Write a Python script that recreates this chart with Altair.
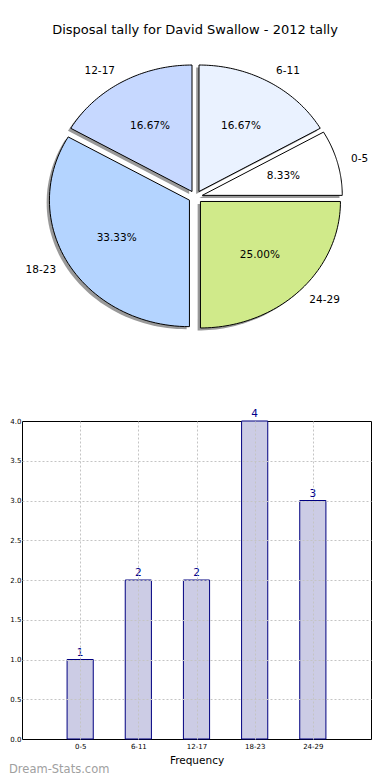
import altair as alt
import pandas as pd

# ---- data ----
labels = ["0-5", "6-11", "12-17", "18-23", "24-29"]
counts = [1, 2, 2, 4, 3]
slice_colors = ["#ffffff", "#eaf2ff", "#c6d8ff", "#b4d4ff", "#d0ea8a"]
y_ticks = [0.0, 0.5, 1.0, 1.5, 2.0, 2.5, 3.0, 3.5, 4.0]
title_text = "Disposal tally for David Swallow - 2012 tally"
x_title = "Frequency"
watermark = "Dream-Stats.com"

df = pd.DataFrame({"label": labels, "count": counts, "idx": list(range(len(labels)))})

FONT = "DejaVu Sans"
FRAME_LEFT = 21          # expected page x of the bar frame
PIE_W, PIE_H = 349, 383
CX_PAGE, CY_PAGE = 194.5, 197
RX, RY = 140, 126.5
cx = CX_PAGE - FRAME_LEFT
cy = CY_PAGE - 8
xdom = [-cx / RX, (PIE_W - cx) / RX]
ydom = [(cy - PIE_H) / RY, cy / RY]
E = 0.05       # explode
N = 60         # arc resolution

xs = alt.Scale(domain=xdom, nice=False, zero=False)
ys = alt.Scale(domain=ydom, nice=False, zero=False)

base = (
    alt.Chart(df)
    .transform_joinaggregate(total="sum(count)")
    .transform_window(cum="sum(count)", sort=[alt.SortField("idx")], frame=[None, 0])
    .transform_calculate(a0="2*PI*(datum.cum-datum.count)/datum.total")
    .transform_calculate(a1="2*PI*datum.cum/datum.total")
    .transform_calculate(mid="(datum.a0+datum.a1)/2")
    .transform_calculate(ex=f"{E}*cos(datum.mid)")
    .transform_calculate(ey=f"{E}*sin(datum.mid)")
)

poly = (
    base.transform_calculate(pts=f"sequence(0, {N + 3})")
    .transform_flatten(["pts"])
    .transform_calculate(t=f"datum.a0 + (datum.pts-1)/{N}*(datum.a1-datum.a0)")
    .transform_calculate(edge=f"(datum.pts==0 || datum.pts=={N + 2}) ? 0 : 1")
    .transform_calculate(px="datum.ex + datum.edge*cos(datum.t)")
    .transform_calculate(py="datum.ey + datum.edge*sin(datum.t)")
)

shadow = (
    poly.transform_calculate(sx="datum.px - 0.02")
    .transform_calculate(sy="datum.py - 0.02")
    .mark_line(filled=True, fill="#333333", fillOpacity=0.5, strokeOpacity=0)
    .encode(
        x=alt.X("sx:Q", scale=xs, axis=None),
        y=alt.Y("sy:Q", scale=ys, axis=None),
        order="pts:Q",
        detail="label:N",
    )
)

wedges = poly.mark_line(filled=True, stroke="black", strokeWidth=1, strokeJoin="miter").encode(
    x=alt.X("px:Q", scale=xs, axis=None),
    y=alt.Y("py:Q", scale=ys, axis=None),
    order="pts:Q",
    detail="label:N",
    color=alt.Color("label:N", scale=alt.Scale(domain=labels, range=slice_colors), legend=None),
)

pct = (
    base.transform_calculate(tx="datum.ex + 0.6*cos(datum.mid)")
    .transform_calculate(ty="datum.ey + 0.6*sin(datum.mid)")
    .transform_calculate(ptxt="format(100*datum.count/datum.total, '.2f') + '%'")
    .mark_text(font=FONT, fontSize=10.5, color="black", baseline="middle", align="center")
    .encode(x=alt.X("tx:Q", scale=xs, axis=None), y=alt.Y("ty:Q", scale=ys, axis=None), text="ptxt:N")
)

lab = base.transform_calculate(lx="datum.ex + 1.1*cos(datum.mid)").transform_calculate(
    ly="datum.ey + 1.1*sin(datum.mid)"
)
lab_r = lab.transform_filter("cos(datum.mid) >= 0").mark_text(
    font=FONT, fontSize=10.5, color="black", baseline="middle", align="left"
).encode(x=alt.X("lx:Q", scale=xs, axis=None), y=alt.Y("ly:Q", scale=ys, axis=None), text="label:N")
lab_l = lab.transform_filter("cos(datum.mid) < 0").mark_text(
    font=FONT, fontSize=10.5, color="black", baseline="middle", align="right"
).encode(x=alt.X("lx:Q", scale=xs, axis=None), y=alt.Y("ly:Q", scale=ys, axis=None), text="label:N")

title = alt.Chart(pd.DataFrame({"t": [title_text]})).mark_text(
    font=FONT, fontSize=13, color="black", baseline="middle", align="center"
).encode(x=alt.value(CX_PAGE - FRAME_LEFT - 0.5), y=alt.value(30 - 8), text="t:N")

pie = alt.layer(shadow, wedges, pct, lab_l, lab_r, title).properties(width=PIE_W, height=PIE_H)

# ---- bar chart ----
BAR_W = 370 - FRAME_LEFT
BAR_H = 318
label_expr = "[" + ",".join(f"'{l}'" for l in labels) + "][datum.value]"

xb = alt.Scale(domain=[-1, 5], nice=False, zero=False)
yb = alt.Scale(domain=[0, 4], nice=False, zero=True)

grid_kw = dict(gridColor="#c4c4c4", gridDash=[2, 2], gridWidth=1, zindex=1)

x_axis = alt.Axis(
    values=[0, 1, 2, 3, 4],
    labelExpr=label_expr,
    title=x_title,
    titleFont=FONT,
    titleFontSize=10.5,
    titleFontWeight="normal",
    titleColor="black",
    titlePadding=6,
    labelFont=FONT,
    labelFontSize=7,
    labelColor="black",
    labelPadding=3,
    ticks=False,
    domain=False,
    grid=True,
    **grid_kw,
)
y_axis = alt.Axis(
    values=y_ticks,
    format=".1f",
    title=None,
    labelFont=FONT,
    labelFontSize=7,
    labelColor="black",
    labelPadding=1,
    labelOverlap=False,
    ticks=False,
    domain=False,
    grid=True,
    gridOpacity={
        "condition": {"test": f"datum.value <= {y_ticks[0]} || datum.value >= {y_ticks[-1]}", "value": 0},
        "value": 1,
    },
    **grid_kw,
)

bars = (
    alt.Chart(df)
    .transform_calculate(x0="datum.idx - 0.225")
    .transform_calculate(x1="datum.idx + 0.225")
    .mark_bar(fill="#ccccE5", stroke="#000080", strokeWidth=1)
    .encode(
        x=alt.X("x0:Q", scale=xb, axis=x_axis, title=x_title),
        x2="x1:Q",
        y=alt.Y("count:Q", scale=yb, axis=y_axis, title=None),
        y2=alt.Y2(datum=0),
    )
)

vals = alt.Chart(df).mark_text(
    font=FONT, fontSize=10.5, color="#00008b", dy=-4, baseline="alphabetic", align="center"
).encode(
    x=alt.X("idx:Q", scale=xb, axis=x_axis, title=x_title),
    y=alt.Y("count:Q", scale=yb, axis=y_axis, title=None),
    text="count:Q",
)

wm = alt.Chart(pd.DataFrame({"w": [watermark]})).mark_text(
    font=FONT, fontSize=11.5, color="#a0a0a0", align="left", baseline="middle"
).encode(x=alt.value(-(FRAME_LEFT - 8)), y=alt.value(770 - 421), text="w:N")

bar = alt.layer(bars, vals, wm).properties(
    width=BAR_W, height=BAR_H, view=alt.ViewBackground(stroke="black", strokeWidth=1)
)

chart = (
    alt.vconcat(pie, bar, spacing=30, bounds="flush")
    .properties(padding=0)
    .configure_view(stroke=None)
)

chart.save("out.html", embed_options={"renderer": "svg", "actions": False})
